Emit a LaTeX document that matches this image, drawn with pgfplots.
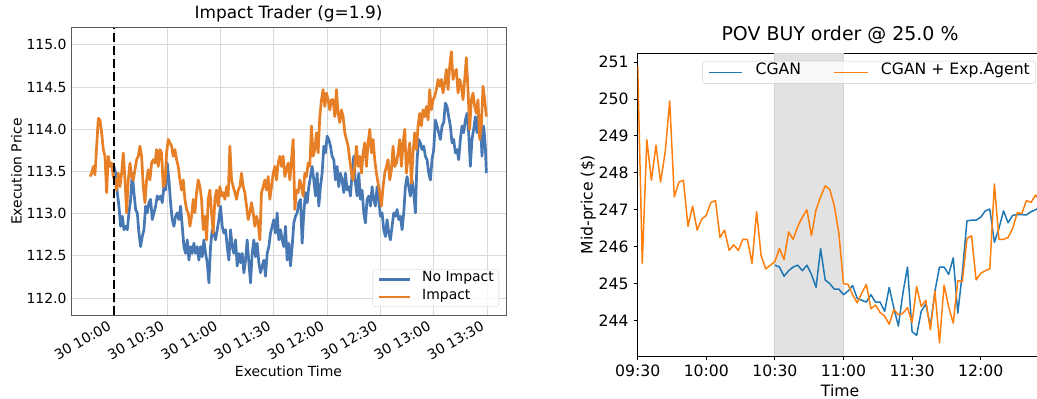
\documentclass[border=0pt]{standalone}
\usepackage{pgfplots}
\pgfplotsset{compat=1.18}
\usepackage{fontspec}
\setmainfont{DejaVu Sans}
\definecolor{niblue}{HTML}{4878B4}
\definecolor{imorange}{HTML}{E67F26}
\definecolor{tabblue}{HTML}{1F77B4}
\definecolor{taborange}{HTML}{FF7F0E}
\definecolor{gridgray}{HTML}{D9D9D9}
\definecolor{spinegray}{HTML}{5A5A5A}
\definecolor{spangray}{HTML}{E2E2E2}
\definecolor{spanedge}{HTML}{D2D2D2}
\begin{document}
\begin{tikzpicture}
\path[use as bounding box] (0bp,0bp) rectangle (1037bp,399bp);
% ---------------- left panel ----------------
\begin{axis}[
  at={(71bp,84bp)}, anchor=south west, scale only axis,
  width=435bp, height=287bp,
  xmin=-24.19, xmax=220.7, ymin=111.8, ymax=115.2,
  xtick={0,30,60,90,120,150,180,210},
  xticklabels={30 10:00,30 10:30,30 11:00,30 11:30,30 12:00,30 12:30,30 13:00,30 13:30},
  ytick={112,112.5,113,113.5,114,114.5,115},
  /pgf/number format/fixed, /pgf/number format/fixed zerofill,
  /pgf/number format/precision=1, /pgf/number format/assume math mode=true,
  major tick length=0pt,
  grid=major, grid style={gridgray, line width=0.9bp},
  axis line style={spinegray, line width=1bp},
  tick label style={font=\fontsize{14}{16.8}\selectfont, inner sep=0pt},
  yticklabel style={xshift=-4.3bp},
  xticklabel style={xshift=-7bp, yshift=-5bp, rotate=30, anchor=north east},
  title={Impact Trader (g=1.9)},
  title style={font=\fontsize{17}{20}\selectfont, at={(axis description cs:0.5,1.0115)}, anchor=base},
  xlabel={Execution Time},
  xlabel style={font=\fontsize{14}{16.8}\selectfont, at={(axis description cs:0.5,-0.215)}, anchor=base},
  ylabel={Execution Price},
  ylabel style={font=\fontsize{14}{16.8}\selectfont, at={(axis description cs:-0.1133,0.5)}, anchor=base},
  legend style={at={(0.984,0.028)}, anchor=south east,
    draw=black!20, rounded corners=3bp, fill=white, fill opacity=0.8, text opacity=1,
    inner xsep=5bp, inner ysep=4.8bp, row sep=7.7bp, column sep=10.7bp,
    font=\fontsize{14}{16.8}\selectfont,
    nodes={inner sep=0pt, text height=0.75em, text depth=0.25em}},
  legend cell align=left,
  legend image code/.code={\draw[#1] (0bp,0bp) -- (31bp,0bp);},
]
\addplot[niblue, line width=2.7bp, line join=round] coordinates {
(0,113.56) (0.94,113.48) (1.88,113.25) (2.81,113.09) (3.75,112.85) (4.69,112.97) (5.63,112.81) (6.56,112.85) (7.50,112.81) (8.44,113.01) (9.38,113.17) (10.31,113.48) (11.25,113.25) (12.19,113.05) (13.13,113.01) (14.06,112.77) (15.00,112.61) (15.94,112.73) (16.88,112.81) (17.81,113.09) (18.75,113.01) (19.69,113.13) (20.63,113.17) (21.56,112.93) (22.50,113.01) (23.44,113.09) (24.38,113.21) (25.31,113.17) (26.25,113.21) (27.19,113.13) (28.13,113.32) (29.06,113.28) (30.00,113.60) (30.94,113.40) (31.88,113.13) (32.81,112.93) (33.75,112.85) (34.69,112.97) (35.63,113.01) (36.56,112.93) (37.50,113.09) (38.44,112.85) (39.38,112.61) (40.31,112.53) (41.25,112.69) (42.19,112.45) (43.13,112.61) (44.06,112.53) (45.00,112.65) (45.94,112.53) (46.88,112.61) (47.81,112.45) (48.75,112.61) (49.69,112.49) (50.63,112.69) (51.56,112.53) (52.50,112.42) (53.44,112.18) (54.38,112.61) (55.31,112.81) (56.25,112.77) (57.19,112.69) (58.13,112.81) (59.06,112.93) (60.00,113.09) (60.94,112.85) (61.88,112.77) (62.81,112.81) (63.75,112.61) (64.69,112.45) (65.63,112.81) (66.56,112.61) (67.50,112.53) (68.44,112.69) (69.38,112.38) (70.31,112.53) (71.25,112.42) (72.19,112.53) (73.13,112.30) (74.06,112.45) (75.00,112.69) (75.94,112.42) (76.88,112.18) (77.81,112.53) (78.75,112.69) (79.69,112.49) (80.63,112.65) (81.56,112.42) (82.50,112.30) (83.44,112.38) (84.38,112.45) (85.31,112.26) (86.25,112.53) (87.19,112.61) (88.13,112.77) (89.06,112.85) (90.00,112.93) (90.94,112.77) (91.88,113.01) (92.81,112.69) (93.75,112.81) (94.69,112.69) (95.63,112.61) (96.56,112.85) (97.50,112.45) (98.44,112.65) (99.38,112.38) (100.31,112.61) (101.25,112.89) (102.19,112.97) (103.13,113.01) (104.06,113.13) (105.00,113.17) (105.94,112.65) (106.88,113.01) (107.81,113.25) (108.75,113.13) (109.69,113.32) (110.63,113.44) (111.56,113.56) (112.50,113.40) (113.44,113.21) (114.38,113.48) (115.31,113.09) (116.25,113.32) (117.19,113.48) (118.13,113.80) (119.06,113.72) (120.00,113.92) (120.94,113.88) (121.88,113.80) (122.81,113.68) (123.75,113.64) (124.69,113.40) (125.63,113.56) (126.56,113.32) (127.50,113.48) (128.44,113.40) (129.38,113.25) (130.31,113.48) (131.25,113.28) (132.19,113.32) (133.13,113.21) (134.06,113.48) (135.00,113.68) (135.94,113.36) (136.88,113.21) (137.81,113.48) (138.75,113.17) (139.69,113.28) (140.63,113.01) (141.56,112.89) (142.50,113.17) (143.44,113.21) (144.38,113.09) (145.31,113.32) (146.25,113.17) (147.19,113.09) (148.13,113.32) (149.06,113.17) (150.00,112.97) (150.94,113.01) (151.88,112.81) (152.81,112.73) (153.75,112.93) (154.69,112.77) (155.63,112.69) (156.56,112.85) (157.50,113.01) (158.44,112.97) (159.38,113.05) (160.31,112.93) (161.25,112.97) (162.19,112.81) (163.13,113.01) (164.06,113.32) (165.00,113.44) (165.94,113.32) (166.88,113.21) (167.81,113.40) (168.75,113.25) (169.69,113.01) (170.63,113.64) (171.56,113.88) (172.50,113.84) (173.44,113.76) (174.38,113.80) (175.31,113.68) (176.25,113.64) (177.19,113.48) (178.13,113.40) (179.06,113.64) (180.00,113.76) (180.94,114.11) (181.88,114.04) (182.81,113.96) (183.75,113.88) (184.69,114.04) (185.63,114.08) (186.56,114.31) (187.50,114.27) (188.44,114.15) (189.38,114.04) (190.31,113.84) (191.25,113.88) (192.19,113.72) (193.13,113.76) (194.06,113.64) (195.00,113.88) (195.94,114.04) (196.88,113.96) (197.81,114.11) (198.75,114.19) (199.69,113.96) (200.63,113.56) (201.56,113.88) (202.50,114.00) (203.44,114.15) (204.38,113.96) (205.31,114.19) (206.25,114.11) (207.19,113.68) (208.13,114.04) (209.06,113.80) (209.63,113.48)
};
\addlegendentry{No Impact}
\addplot[imorange, line width=2.7bp, line join=round] coordinates {
(-13.50,113.44) (-12.56,113.48) (-11.63,113.56) (-10.69,113.46) (-9.75,113.80) (-8.81,114.13) (-7.88,114.11) (-6.94,113.96) (-6.00,113.76) (-5.06,113.68) (-4.13,113.25) (-3.19,113.68) (-2.25,113.56) (-1.31,113.60) (-0.38,113.44) (0.56,113.40) (1.50,113.28) (2.44,113.48) (3.38,113.32) (4.31,113.48) (5.25,113.72) (6.19,113.40) (7.13,113.01) (8.06,113.40) (9.00,113.60) (9.94,113.44) (10.88,113.40) (11.81,113.52) (12.75,113.64) (13.69,113.68) (14.63,113.80) (15.56,113.68) (16.50,113.32) (17.44,113.13) (18.38,113.40) (19.31,113.52) (20.25,113.40) (21.19,113.60) (22.13,113.64) (23.06,113.60) (24.00,113.76) (24.94,113.56) (25.88,113.76) (26.81,113.72) (27.75,113.32) (28.69,113.36) (29.63,113.72) (30.56,113.88) (31.50,113.84) (32.44,113.80) (33.38,113.68) (34.31,113.76) (35.25,113.64) (36.19,113.56) (37.13,113.40) (38.06,113.28) (39.00,113.40) (39.94,113.17) (40.88,113.05) (41.81,113.01) (42.75,112.85) (43.69,112.97) (44.63,113.17) (45.56,113.01) (46.50,113.25) (47.44,113.40) (48.38,113.32) (49.31,113.17) (50.25,112.81) (51.19,112.97) (52.13,112.69) (53.06,113.17) (54.00,113.28) (54.94,113.01) (55.88,112.77) (56.81,113.17) (57.75,113.28) (58.69,113.09) (59.63,113.32) (60.56,113.21) (61.50,113.25) (62.44,113.17) (63.38,113.32) (64.31,113.21) (65.25,113.80) (66.19,113.40) (67.13,113.32) (68.06,113.25) (69.00,113.17) (69.94,113.28) (70.88,113.32) (71.81,113.48) (72.75,113.32) (73.69,113.25) (74.63,113.09) (75.56,112.93) (76.50,113.01) (77.44,113.13) (78.38,113.01) (79.31,112.85) (80.25,112.97) (81.19,112.89) (82.13,112.69) (83.06,113.25) (84.00,113.32) (84.94,113.40) (85.88,113.28) (86.81,113.44) (87.75,113.17) (88.69,113.32) (89.63,113.48) (90.56,113.56) (91.50,113.40) (92.44,113.60) (93.38,113.68) (94.31,113.56) (95.25,113.68) (96.19,113.44) (97.13,113.52) (98.06,113.60) (99.00,113.40) (99.94,113.64) (100.88,113.88) (101.81,113.05) (102.75,113.28) (103.69,113.25) (104.63,113.40) (105.56,113.32) (106.50,113.21) (107.44,113.48) (108.38,113.44) (109.31,113.60) (110.25,113.56) (111.19,114.04) (112.13,113.68) (113.06,113.76) (114.00,113.96) (114.94,113.72) (115.88,114.15) (116.81,114.35) (117.75,114.47) (118.69,114.27) (119.63,114.43) (120.56,114.35) (121.50,114.23) (122.44,114.35) (123.38,114.35) (124.31,114.15) (125.25,114.47) (126.19,114.19) (127.13,114.08) (128.06,114.23) (129.00,114.15) (129.94,113.96) (130.88,113.88) (131.81,113.80) (132.75,113.64) (133.69,113.48) (134.63,113.40) (135.56,113.56) (136.50,113.80) (137.44,113.56) (138.38,113.68) (139.31,113.48) (140.25,113.72) (141.19,113.84) (142.13,113.56) (143.06,113.84) (144.00,114.00) (144.94,113.72) (145.88,113.88) (146.81,113.64) (147.75,113.48) (148.69,113.36) (149.63,113.25) (150.56,113.09) (151.50,113.32) (152.44,113.48) (153.38,113.56) (154.31,113.64) (155.25,113.40) (156.19,113.52) (157.13,113.80) (158.06,113.56) (159.00,113.60) (159.94,113.72) (160.88,113.88) (161.81,113.56) (162.75,113.84) (163.69,114.00) (164.63,113.48) (165.56,113.68) (166.50,113.84) (167.44,113.36) (168.38,113.72) (169.31,113.96) (170.25,113.76) (171.19,114.04) (172.13,114.19) (173.06,114.04) (174.00,114.23) (174.94,114.15) (175.88,114.27) (176.81,114.11) (177.75,114.47) (178.69,114.23) (179.63,114.35) (180.56,114.39) (181.50,114.47) (182.44,114.59) (183.38,114.51) (184.31,114.59) (185.25,114.43) (186.19,114.55) (187.13,114.71) (188.06,114.47) (189.00,114.75) (189.94,114.92) (190.88,114.59) (191.81,114.67) (192.75,114.71) (193.69,114.43) (194.63,114.59) (195.56,114.51) (196.50,114.35) (197.44,114.59) (198.38,114.85) (199.31,114.47) (200.25,114.00) (201.19,114.35) (202.13,114.43) (203.06,114.27) (204.00,114.19) (204.94,114.35) (205.88,113.88) (206.81,114.04) (207.75,114.51) (208.69,114.35) (209.63,114.15)
};
\addlegendentry{Impact}
\addplot[black, line width=2.4bp, dash pattern=on 9bp off 4bp, forget plot] coordinates {(0,111.8) (0,115.2)};
\end{axis}
% ---------------- right panel ----------------
\begin{axis}[
  at={(637.7bp,43bp)}, anchor=south west, scale only axis,
  width=404.7bp, height=302.7bp,
  xmin=0, xmax=177, ymin=243.04, ymax=251.24,
  xtick={0,30,60,90,120,150},
  xticklabels={09:30,10:00,10:30,11:00,11:30,12:00},
  ytick={244,245,246,247,248,249,250,251},
  /pgf/number format/assume math mode=true,
  tick pos=left, tick align=outside, major tick length=4bp,
  tick style={black, line width=1bp},
  axis line style={black, line width=1bp},
  tick label style={font=\fontsize{15.7}{18.8}\selectfont, inner sep=0pt},
  yticklabel style={xshift=-5bp},
  xticklabel style={yshift=-5bp, anchor=north},
  title={POV BUY order @ 25.0 \%},
  title style={font=\fontsize{19}{22.8}\selectfont, at={(axis description cs:0.5,1.0218)}, anchor=base},
  xlabel={Time},
  xlabel style={font=\fontsize{15.7}{18.8}\selectfont, at={(axis description cs:0.5,-0.1345)}, anchor=base},
  ylabel={Mid-price (\$)},
  ylabel style={font=\fontsize{15.7}{18.8}\selectfont, at={(axis description cs:-0.1112,0.5)}, anchor=base},
  legend columns=2,
  legend style={at={(0.9842,0.9746)}, anchor=north east,
    draw=black!20, rounded corners=3bp, fill=white, fill opacity=0.8, text opacity=1,
    inner xsep=6bp, inner ysep=6.15bp, column sep=12.5bp,
    font=\fontsize{15.7}{18.8}\selectfont,
    nodes={inner sep=0pt, text height=0.75em, text depth=0.25em},
    /tikz/every even column/.append style={column sep=32.6bp}},
  legend cell align=left,
  legend image code/.code={\draw[#1] (0bp,0bp) -- (33.3bp,0bp);},
]
\addplot[draw=spanedge, fill=spangray, line width=0.8bp, forget plot] coordinates {(60,243.04) (60,251.24) (90,251.24) (90,243.04) (60,243.04)};
\addplot[tabblue, line width=1.5bp, line join=round] coordinates {
(60,245.5) (62,245.45) (64,245.2) (66,245.35) (68,245.45) (70,245.5) (72,245.35) (74,245.5) (76,245.25) (78,244.9) (80,245.95) (82,245.1) (84,245.0) (86,244.85) (88,244.85) (90,244.7) (92,244.8) (94,244.95) (96,244.6) (98,244.55) (100,244.5) (102,244.7) (104,244.5) (106,244.5) (108,244.25) (110,244.9) (112,244.35) (114,243.85) (116,244.75) (118,245.45) (120,243.7) (122,243.6) (124,244.25) (126,244.45) (128,243.85) (130,244.8) (132,245.45) (134,245.45) (136,245.25) (138,245.7) (140,244.2) (142,245.3) (144,246.7) (146,246.72) (148,246.72) (150,246.8) (152,246.97) (154,247.02) (156,246.12) (158,246.5) (160,246.97) (162,246.65) (164,246.85) (166,246.87) (168,246.87) (170,246.86) (172,246.95) (174,247.0) (176,247.08)
};
\addlegendentry{CGAN}
\addplot[taborange, line width=1.5bp, line join=round] coordinates {
(0,250.9) (2,245.55) (4,248.9) (6,247.8) (8,248.75) (10,247.75) (12,248.55) (14,249.95) (16,247.35) (18,247.75) (20,247.8) (22,246.55) (24,247.1) (26,246.45) (28,246.75) (30,246.85) (32,247.2) (34,247.25) (36,246.25) (38,246.45) (40,245.9) (42,246.05) (44,245.9) (46,246.2) (48,246.2) (50,245.55) (52,246.95) (54,245.75) (56,245.4) (58,245.5) (60,245.6) (62,245.95) (64,245.65) (66,246.4) (68,246.2) (70,246.55) (72,246.8) (74,247.0) (76,246.3) (78,247.0) (80,247.35) (82,247.65) (84,247.55) (86,247.1) (88,246.35) (90,245.0) (92,244.98) (94,244.7) (96,244.48) (98,244.75) (100,244.98) (102,244.32) (104,244.42) (106,244.22) (108,244.12) (110,243.9) (112,244.3) (114,244.15) (116,244.2) (118,244.35) (120,243.95) (122,244.92) (124,244.38) (126,244.55) (128,243.75) (130,244.8) (132,243.4) (134,244.96) (136,244.37) (138,243.93) (140,245.08) (142,245.06) (144,246.22) (146,246.3) (148,245.1) (150,245.28) (152,245.35) (154,245.4) (156,247.7) (158,246.2) (160,246.2) (162,246.25) (164,246.5) (166,246.92) (168,246.9) (170,247.25) (172,247.2) (174,247.4) (176,247.25)
};
\addlegendentry{CGAN + Exp.Agent}
\end{axis}
\end{tikzpicture}
\end{document}
